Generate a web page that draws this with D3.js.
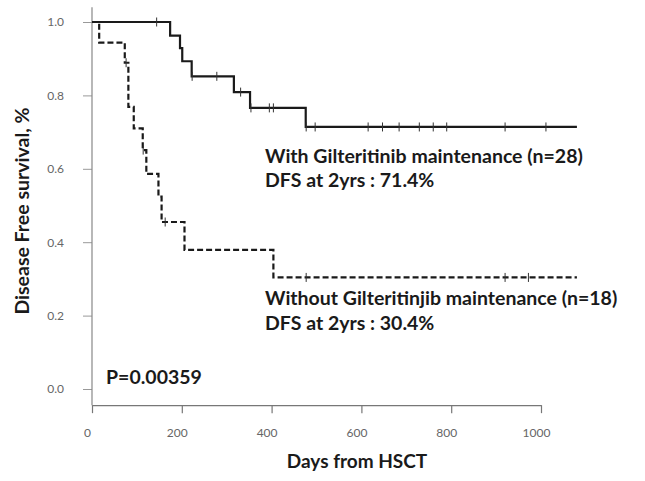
<!DOCTYPE html>
<html>
<head>
<meta charset="utf-8">
<script src="https://cdn.jsdelivr.net/npm/d3@7"></script>
<style>
  body { margin: 0; background: #fff; }
  svg { display: block; }
</style>
</head>
<body>
<div id="chart"></div>
<script>
// Kaplan-Meier steps (days, survival)
var withTimes = [0, 174, 196, 201, 222, 316, 352, 476, 1080];
var withSurv  = [1, 0.963, 0.929, 0.893, 0.852, 0.809, 0.766, 0.714, 0.714];
var withCensor = [144, 223, 278, 331, 354, 395, 404, 477, 497, 615, 647, 684, 729, 760, 790, 920, 1011];

var withoutTimes = [0, 16, 73, 81, 93, 113, 121, 148, 155, 206, 404, 1080];
var withoutSurv  = [1, 0.944, 0.889, 0.769, 0.71, 0.651, 0.586, 0.524, 0.455, 0.379, 0.304, 0.304];
var withoutCensor = [76, 114, 163, 477, 920, 972];

var xTicks = [0, 200, 400, 600, 800, 1000];
var yTicks = [0, 0.2, 0.4, 0.6, 0.8, 1.0];

var width = 645, height = 481;
var font = "Lato, 'Open Sans', sans-serif";

var svg = d3.select("#chart").append("svg")
  .attr("width", width)
  .attr("height", height);

var x = d3.scaleLinear().domain([0, 1000]).range([92, 541]);
var y = d3.scaleLinear().domain([0, 1]).range([389, 22]);
var yMin = -0.044, yMax = 1.04;

// eje Y
var yAxis = d3.axisLeft(y).tickValues(yTicks).tickFormat(d3.format(".1f"))
  .tickSizeInner(9).tickSizeOuter(0).tickPadding(19);
var yAxisG = svg.append("g").attr("transform", "translate(" + x(0) + ",0)").call(yAxis);
yAxisG.select(".domain").remove();
yAxisG.selectAll(".tick line").attr("stroke", "#999");
yAxisG.selectAll(".tick text").attr("fill", "#666").style("font-family", font).style("font-size", "12px");
svg.append("line")
  .attr("x1", x(0)).attr("x2", x(0))
  .attr("y1", y(yMax)).attr("y2", y(yMin))
  .attr("stroke", "#888").attr("stroke-width", 1.2);

// eje X
var xAxis = d3.axisBottom(x).tickValues(xTicks).tickFormat(d3.format("d"))
  .tickSizeInner(8).tickSizeOuter(0).tickPadding(15);
var xAxisG = svg.append("g").attr("transform", "translate(0," + y(yMin) + ")").call(xAxis);
xAxisG.select(".domain").attr("stroke", "#777").attr("stroke-width", 1.4);
xAxisG.selectAll(".tick line").attr("stroke", "#777").attr("stroke-width", 1.2);
xAxisG.selectAll(".tick text").attr("fill", "#666").attr("dx", -5)
  .style("font-family", font).style("font-size", "12px");

// curvas
var line = d3.line()
  .x(function(d) { return x(d[0]); })
  .y(function(d) { return y(d[1]); })
  .curve(d3.curveStepAfter);

function stepAt(times, surv, t) {
  var s = surv[0];
  for (var i = 0; i < times.length; i++) { if (times[i] <= t) s = surv[i]; }
  return s;
}

var curves = [
  { times: withTimes, surv: withSurv, censor: withCensor, dash: null },
  { times: withoutTimes, surv: withoutSurv, censor: withoutCensor, dash: "6,3" }
];

curves.forEach(function(c) {
  var pts = c.times.map(function(t, i) { return [t, c.surv[i]]; });
  svg.append("path")
    .datum(pts)
    .attr("d", line)
    .attr("fill", "none")
    .attr("stroke", "#1a1a1a")
    .attr("stroke-width", 2.2)
    .attr("stroke-dasharray", c.dash);

  svg.selectAll(null)
    .data(c.censor)
    .enter().append("line")
      .attr("x1", function(d) { return x(d); })
      .attr("x2", function(d) { return x(d); })
      .attr("y1", function(d) { return y(stepAt(c.times, c.surv, d)) - 4.5; })
      .attr("y2", function(d) { return y(stepAt(c.times, c.surv, d)) + 4.5; })
      .attr("stroke", "#333")
      .attr("stroke-width", 1);
});

// textos
var labels = [
  { t: "With Gilteritinib maintenance (n=28)", x: 265, y: 163 },
  { t: "DFS at 2yrs : 71.4%", x: 265, y: 187 },
  { t: "Without Gilteritinjib maintenance (n=18)", x: 265, y: 305 },
  { t: "DFS at 2yrs : 30.4%", x: 265, y: 330 },
  { t: "P=0.00359", x: 106, y: 384 }
];
svg.selectAll(".ann").data(labels).enter().append("text")
  .attr("class", "ann")
  .attr("x", function(d) { return d.x; })
  .attr("y", function(d) { return d.y; })
  .text(function(d) { return d.t; })
  .style("font-family", font).style("font-weight", "bold")
  .style("font-size", "19.5px").attr("fill", "#1a1a1a");

svg.append("text")
  .attr("x", 357).attr("y", 468)
  .attr("text-anchor", "middle")
  .text("Days from HSCT")
  .style("font-family", font).style("font-weight", "bold")
  .style("font-size", "19px").attr("fill", "#1a1a1a");

svg.append("text")
  .attr("transform", "translate(29,211) rotate(-90)")
  .attr("text-anchor", "middle")
  .text("Disease Free survival, %")
  .style("font-family", font).style("font-weight", "bold")
  .style("font-size", "19.5px").attr("fill", "#1a1a1a");
</script>
</body>
</html>
